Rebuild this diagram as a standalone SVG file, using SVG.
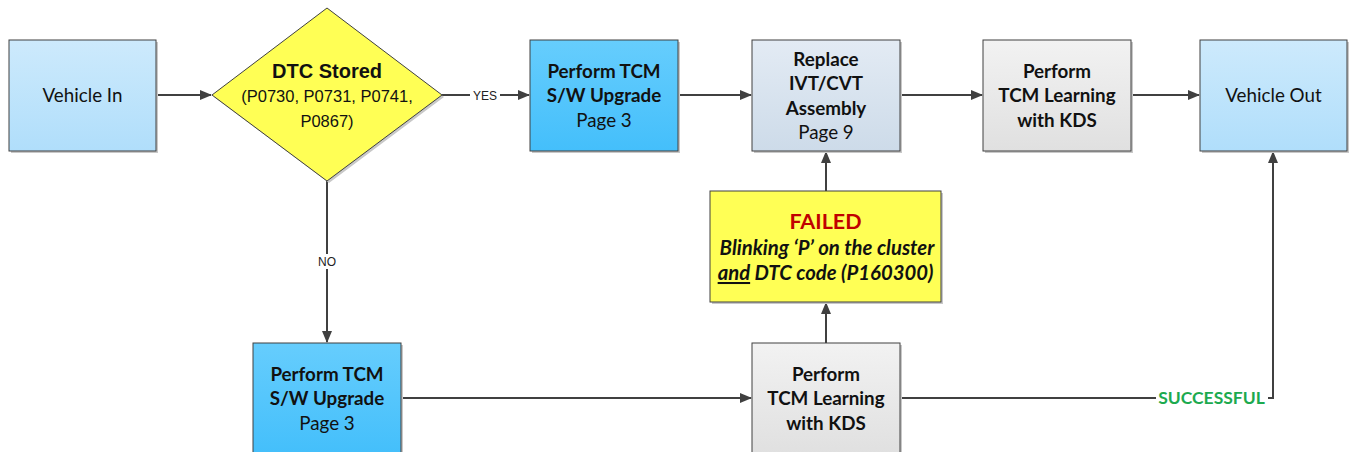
<svg xmlns="http://www.w3.org/2000/svg" width="1349" height="452" viewBox="0 0 1349 452">
<defs>
<linearGradient id="gBlue" x1="0" y1="0" x2="0" y2="1"><stop offset="0" stop-color="#cdeafc"/><stop offset="1" stop-color="#b0defb"/></linearGradient>
<linearGradient id="gSw" x1="0" y1="0" x2="0" y2="1"><stop offset="0" stop-color="#66cdfd"/><stop offset="1" stop-color="#44bffb"/></linearGradient>
<linearGradient id="gRep" x1="0" y1="0" x2="0" y2="1"><stop offset="0" stop-color="#e3ebf4"/><stop offset="1" stop-color="#cddbe9"/></linearGradient>
<linearGradient id="gGrey" x1="0" y1="0" x2="0" y2="1"><stop offset="0" stop-color="#f2f2f2"/><stop offset="1" stop-color="#e0e0e0"/></linearGradient>
<marker id="arr" markerWidth="12" markerHeight="10" refX="11" refY="5" orient="auto" markerUnits="userSpaceOnUse"><path d="M0,0 L12,5 L0,10 Z" fill="#404040"/></marker>
</defs>
<style>
.box{stroke:#404040;stroke-width:1}
.sh{fill:#c8c8c8}
.t{font-family:Lato,"Open Sans","Liberation Sans",sans-serif;font-size:18.8px;fill:#111;text-anchor:middle}
.b{font-weight:bold}
.i{font-style:italic;font-size:20.3px}
.a{font-family:"Liberation Sans",Arial,sans-serif;text-anchor:middle;fill:#111}
.c{fill:none;stroke:#404040;stroke-width:2}
.lbl{font-family:"Liberation Sans",Arial,sans-serif;font-size:12px;fill:#222;text-anchor:middle}
</style>
<rect width="1349" height="452" fill="#ffffff"/>
<g id="connectors">
<line class="c" x1="156" y1="95" x2="211" y2="95" marker-end="url(#arr)"/>
<line class="c" x1="442" y1="95" x2="529" y2="95" marker-end="url(#arr)"/>
<rect x="470" y="88" width="30" height="14" fill="#fff"/>
<text class="lbl" x="485" y="100">YES</text>
<line class="c" x1="678" y1="95" x2="751" y2="95" marker-end="url(#arr)"/>
<line class="c" x1="900" y1="95" x2="982" y2="95" marker-end="url(#arr)"/>
<line class="c" x1="1131" y1="95" x2="1199" y2="95" marker-end="url(#arr)"/>
<line class="c" x1="327" y1="181" x2="327" y2="342" marker-end="url(#arr)"/>
<rect x="313" y="254" width="28" height="15" fill="#fff"/>
<text class="lbl" x="327" y="266">NO</text>
<line class="c" x1="401" y1="398" x2="751" y2="398" marker-end="url(#arr)"/>
<line class="c" x1="826" y1="343" x2="826" y2="303" marker-end="url(#arr)"/>
<line class="c" x1="826" y1="191" x2="826" y2="152" marker-end="url(#arr)"/>
<polyline class="c" points="900,398 1273,398 1273,152" marker-end="url(#arr)"/>
<rect x="1156" y="388" width="112" height="20" fill="#fff"/>
<text x="1211.5" y="404" style="font-family:Lato,'Open Sans','Liberation Sans',sans-serif;font-size:17.5px;font-weight:bold;fill:#1daa4f;text-anchor:middle">SUCCESSFUL</text>
</g>
<g id="vehicle-in">
<rect class="sh" x="11" y="42" width="147" height="111"/>
<rect class="box" x="9" y="40" width="147" height="111" fill="url(#gBlue)"/>
<text class="t" x="82.5" y="102">Vehicle In</text>
</g>
<g id="dtc-stored">
<polygon points="329,10 444,97 329,183 214,97" fill="#c8c8c8"/>
<polygon class="box" points="327,8 442,95 327,181 212,95" fill="#ffff55"/>
<text class="a" x="327" y="78" style="font-size:20px;font-weight:bold">DTC Stored</text>
<text class="a" x="327" y="102" style="font-size:16.5px">(P0730, P0731, P0741,</text>
<text class="a" x="327" y="127" style="font-size:16.5px">P0867)</text>
</g>
<g id="sw-upgrade-top">
<rect class="sh" x="532" y="42" width="148" height="111"/>
<rect class="box" x="530" y="40" width="148" height="111" fill="url(#gSw)"/>
<text class="t b" x="604" y="78">Perform TCM</text>
<text class="t b" x="604" y="102">S/W Upgrade</text>
<text class="t" x="604" y="127">Page 3</text>
</g>
<g id="replace">
<rect class="sh" x="754" y="42" width="148" height="111"/>
<rect class="box" x="752" y="40" width="148" height="111" fill="url(#gRep)"/>
<text class="t b" x="826" y="66">Replace</text>
<text class="t b" x="826" y="90">IVT/CVT</text>
<text class="t b" x="826" y="115">Assembly</text>
<text class="t" x="826" y="139">Page 9</text>
</g>
<g id="learning-top">
<rect class="sh" x="985" y="42" width="148" height="111"/>
<rect class="box" x="983" y="40" width="148" height="111" fill="url(#gGrey)"/>
<text class="t b" x="1057" y="78">Perform</text>
<text class="t b" x="1057" y="102">TCM Learning</text>
<text class="t b" x="1057" y="127">with KDS</text>
</g>
<g id="vehicle-out">
<rect class="sh" x="1202" y="42" width="147" height="111"/>
<rect class="box" x="1200" y="40" width="147" height="111" fill="url(#gBlue)"/>
<text class="t" x="1273.5" y="102">Vehicle Out</text>
</g>
<g id="failed">
<rect class="sh" x="712" y="193" width="231" height="111"/>
<rect class="box" x="710" y="191" width="231" height="111" fill="#ffff55"/>
<text class="t b" x="825.5" y="229" style="font-size:21.5px;fill:#c00000">FAILED</text>
<text class="t b i" x="827" y="255">Blinking ‘P’ on the cluster</text>
<text class="t b i" x="825.5" y="280"><tspan text-decoration="underline">and</tspan> DTC code (P160300)</text>
</g>
<g id="sw-upgrade-bottom">
<rect class="sh" x="255" y="345" width="148" height="111"/>
<rect class="box" x="253" y="343" width="148" height="111" fill="url(#gSw)"/>
<text class="t b" x="327" y="381">Perform TCM</text>
<text class="t b" x="327" y="405">S/W Upgrade</text>
<text class="t" x="327" y="430">Page 3</text>
</g>
<g id="learning-bottom">
<rect class="sh" x="754" y="345" width="148" height="111"/>
<rect class="box" x="752" y="343" width="148" height="111" fill="url(#gGrey)"/>
<text class="t b" x="826" y="381">Perform</text>
<text class="t b" x="826" y="405">TCM Learning</text>
<text class="t b" x="826" y="430">with KDS</text>
</g>
</svg>
